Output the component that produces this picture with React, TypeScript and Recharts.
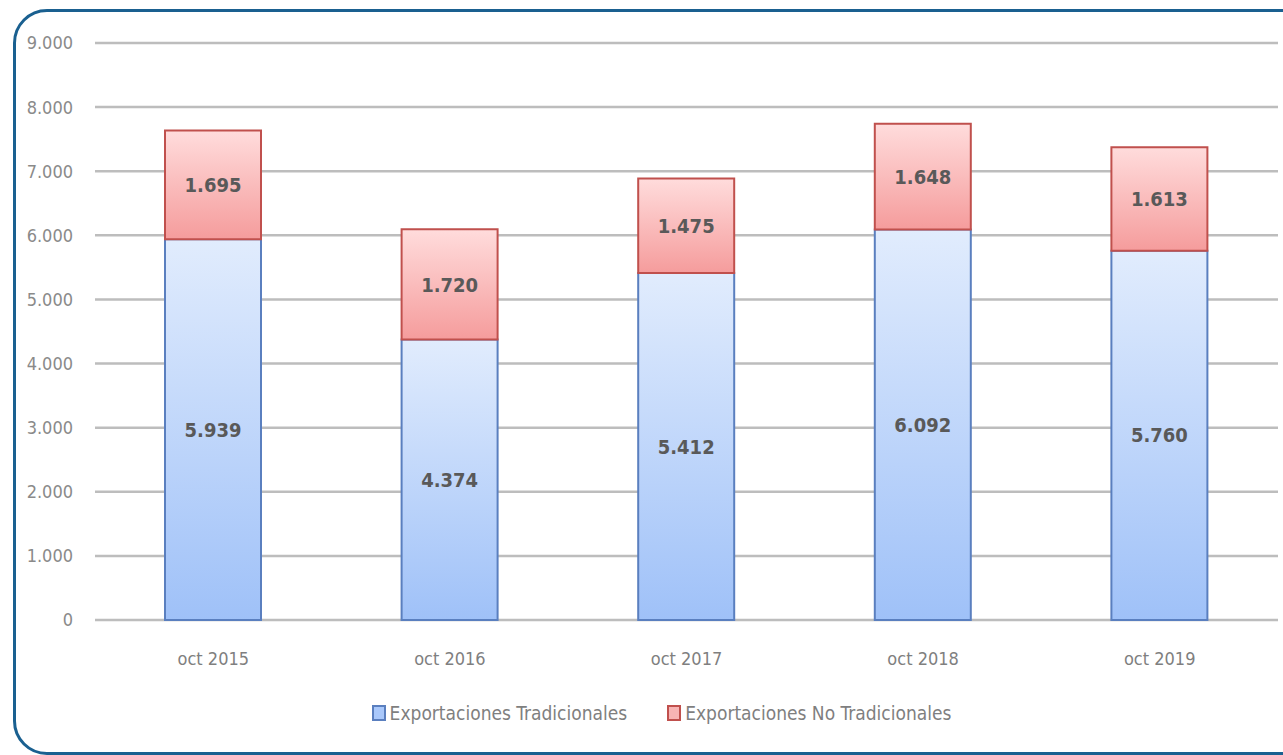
import React from 'react';
import { BarChart, Bar, XAxis, YAxis, CartesianGrid, Legend, LabelList } from 'recharts';

const categories = ['oct 2015', 'oct 2016', 'oct 2017', 'oct 2018', 'oct 2019'];
const tradicionales = [5939, 4374, 5412, 6092, 5760];
const noTradicionales = [1695, 1720, 1475, 1648, 1613];
const yTicks = [0, 1000, 2000, 3000, 4000, 5000, 6000, 7000, 8000, 9000];
const seriesNames = ['Exportaciones Tradicionales', 'Exportaciones No Tradicionales'];

const data = categories.map((c, i) => ({
  name: c,
  trad: tradicionales[i],
  noTrad: noTradicionales[i],
}));

const FONT = '"Liberation Sans Narrow", "DejaVu Sans Condensed", "Liberation Sans", sans-serif';
const fmt = (v: number) => v.toLocaleString('de-DE');

const LegendContent = () => (
  <div style={{ display: 'flex', justifyContent: 'center', alignItems: 'center', fontFamily: FONT, fontSize: 19, color: '#7f7f7f' }}>
    <div style={{ display: 'flex', alignItems: 'center', marginRight: 40 }}>
      <div style={{ width: 10, height: 12, background: '#a9c8fb', border: '2px solid #5a7fbf', marginRight: 4 }} />
      <span>{seriesNames[0]}</span>
    </div>
    <div style={{ display: 'flex', alignItems: 'center' }}>
      <div style={{ width: 10, height: 12, background: '#f8b4b4', border: '2px solid #c0504d', marginRight: 4 }} />
      <span>{seriesNames[1]}</span>
    </div>
  </div>
);

export default function App() {
  return (
    <div style={{ position: 'fixed', left: 0, top: 0, width: 1283, height: 755, overflow: 'hidden', background: '#ffffff' }}>
      <div style={{ position: 'absolute', left: 13, top: 9, width: 1320, height: 740, border: '3px solid #1a6090', borderRadius: 34 }} />
      <div style={{ position: 'absolute', left: 0, top: 0 }}>
        <BarChart width={1283} height={755} data={data} margin={{ top: 43, right: 5, left: 0, bottom: 105 }} barSize={96}>
          <defs>
            <linearGradient id="gBlue" x1="0" y1="0" x2="0" y2="1">
              <stop offset="0%" stopColor="#e1ecfd" />
              <stop offset="100%" stopColor="#9fc1f8" />
            </linearGradient>
            <linearGradient id="gRed" x1="0" y1="0" x2="0" y2="1">
              <stop offset="0%" stopColor="#ffdcdc" />
              <stop offset="100%" stopColor="#f59c9c" />
            </linearGradient>
          </defs>
          <CartesianGrid horizontal vertical={false} stroke="#bdbdbd" strokeWidth={2.5} />
          <XAxis
            dataKey="name"
            axisLine={false}
            tickLine={false}
            tickMargin={26}
            height={30}
            tick={{ fill: '#7f7f7f', fontSize: 18, fontFamily: FONT }}
          />
          <YAxis
            width={95}
            domain={[0, 9000]}
            ticks={yTicks}
            tickFormatter={fmt}
            axisLine={false}
            tickLine={false}
            tickMargin={16}
            tick={{ fill: '#8a8a8a', fontSize: 18, fontFamily: FONT }}
          />
          <Legend layout="horizontal" verticalAlign="middle" align="center" content={<LegendContent />} wrapperStyle={{ top: 702, left: 20, width: 1283 }} />
          <Bar dataKey="trad" stackId="a" fill="url(#gBlue)" stroke="#5a7fbf" strokeWidth={2} isAnimationActive={false} name={seriesNames[0]}>
            <LabelList dataKey="trad" position="center" formatter={fmt} fill="#595959" fontSize={20} fontFamily={FONT} fontWeight="bold" />
          </Bar>
          <Bar dataKey="noTrad" stackId="a" fill="url(#gRed)" stroke="#c0504d" strokeWidth={2} isAnimationActive={false} name={seriesNames[1]}>
            <LabelList dataKey="noTrad" position="center" formatter={fmt} fill="#595959" fontSize={20} fontFamily={FONT} fontWeight="bold" />
          </Bar>
        </BarChart>
      </div>
    </div>
  );
}
